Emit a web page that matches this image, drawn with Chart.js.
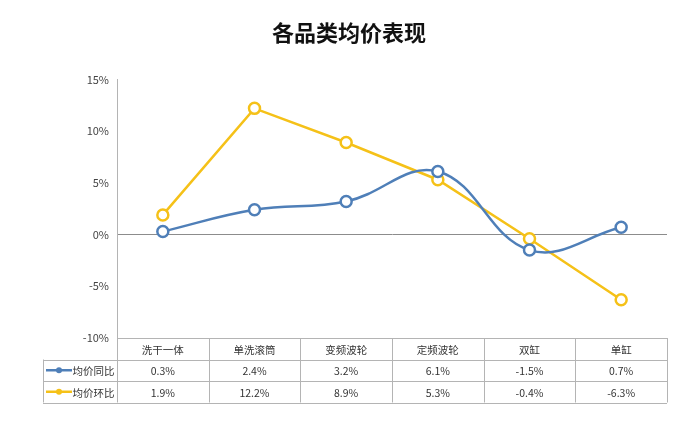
<!DOCTYPE html>
<html>
<head>
<meta charset="utf-8">
<script src="https://cdn.jsdelivr.net/npm/chart.js@4.4.1/dist/chart.umd.min.js"></script>
<style>
  html, body { margin: 0; padding: 0; background: #fff; }
  #wrap { width: 687px; height: 424px; position: relative; }
</style>
</head>
<body>
<div id="wrap"><canvas id="lineChart"></canvas></div>
<script>
// chart data
const categories = ["洗干一体", "单洗滚筒", "变频波轮", "定频波轮", "双缸", "单缸"];
const yoyValues = [0.3, 2.4, 3.2, 6.1, -1.5, 0.7];     // 均价同比
const momValues = [1.9, 12.2, 8.9, 5.3, -0.4, -6.3];   // 均价环比
const seriesNames = ["均价同比", "均价环比"];
const yTicks = [-10, -5, 0, 5, 10, 15];

const BLUE = "#4F7FB8";
const YELLOW = "#F5C118";
const GRID = "#b4b4b4";
const FONT = "'Noto Sans CJK SC', 'Noto Sans', sans-serif";

// data table under the plot, drawn on the x scale columns
const tablePlugin = {
  id: "dataTable",
  afterDraw(chart) {
    const ctx = chart.ctx;
    const area = chart.chartArea;
    const n = categories.length;
    const colW = (area.right - area.left) / n;
    const rowH = 21.5;
    const top = area.bottom;
    const tableLeft = 43;
    const rows = [
      { name: seriesNames[0], color: BLUE, values: yoyValues },
      { name: seriesNames[1], color: YELLOW, values: momValues },
    ];

    ctx.save();
    ctx.strokeStyle = GRID;
    ctx.lineWidth = 1;

    // horizontal lines
    const hline = (x1, x2, y) => {
      ctx.beginPath();
      ctx.moveTo(x1, Math.round(y) + 0.5);
      ctx.lineTo(x2, Math.round(y) + 0.5);
      ctx.stroke();
    };
    hline(area.left, area.right, top);
    hline(tableLeft, area.right, top + rowH);
    hline(tableLeft, area.right, top + rowH * 2);
    hline(tableLeft, area.right, top + rowH * 3);

    // vertical lines
    const vline = (x, y1, y2) => {
      ctx.beginPath();
      ctx.moveTo(Math.round(x) + 0.5, y1);
      ctx.lineTo(Math.round(x) + 0.5, y2);
      ctx.stroke();
    };
    vline(tableLeft, top + rowH, top + rowH * 3);
    for (let i = 0; i <= n; i++) {
      vline(area.left + colW * i, top, top + rowH * 3);
    }

    ctx.font = "10.5px " + FONT;
    ctx.fillStyle = "#333";
    ctx.textAlign = "center";
    ctx.textBaseline = "middle";
    const xs = chart.scales.x;
    categories.forEach((c, i) => {
      ctx.fillText(c, xs.getPixelForValue(i), top + rowH / 2 + 1);
    });

    rows.forEach((r, k) => {
      const cy = top + rowH * (k + 1.5) + 1;
      r.values.forEach((v, i) => {
        ctx.fillStyle = "#333";
        ctx.fillText(v.toFixed(1) + "%", xs.getPixelForValue(i), cy);
      });
      // legend key
      ctx.strokeStyle = r.color;
      ctx.lineWidth = 2.5;
      ctx.beginPath();
      ctx.moveTo(46, cy - 1);
      ctx.lineTo(72, cy - 1);
      ctx.stroke();
      ctx.fillStyle = r.color;
      ctx.beginPath();
      ctx.arc(59, cy - 1, 3, 0, Math.PI * 2);
      ctx.fill();
      ctx.fillStyle = "#333";
      ctx.textAlign = "left";
      ctx.fillText(r.name, 72.5, cy);
      ctx.textAlign = "center";
    });
    ctx.restore();
  },
};

new Chart(document.getElementById("lineChart"), {
  type: "line",
  data: {
    labels: categories,
    datasets: [
      {
        label: seriesNames[0],
        data: yoyValues,
        borderColor: BLUE,
        backgroundColor: "#fff",
        borderWidth: 2.5,
        tension: 0.4,
        pointRadius: 5.5,
        pointBorderWidth: 2.5,
        pointBackgroundColor: "#fff",
        pointBorderColor: BLUE,
      },
      {
        label: seriesNames[1],
        data: momValues,
        borderColor: YELLOW,
        backgroundColor: "#fff",
        borderWidth: 2.5,
        tension: 0,
        pointRadius: 5.5,
        pointBorderWidth: 2.5,
        pointBackgroundColor: "#fff",
        pointBorderColor: YELLOW,
      },
    ],
  },
  options: {
    responsive: true,
    maintainAspectRatio: false,
    animation: false,
    layout: { padding: { top: 0, right: 20, left: 31, bottom: 0 } },
    plugins: {
      legend: { display: false },
      tooltip: { enabled: false },
      title: {
        display: true,
        text: "各品类均价表现",
        color: "#111",
        font: { family: FONT, size: 22, weight: "bold" },
        padding: { top: 19, bottom: 34 },
      },
    },
    scales: {
      x: {
        offset: true,
        grid: { display: false },
        border: { display: false },
        ticks: { display: false },
        afterFit: (s) => { s.height = 86; },
      },
      y: {
        min: yTicks[0],
        max: yTicks[yTicks.length - 1],
        afterBuildTicks: (s) => { s.ticks = yTicks.map((v) => ({ value: v })); },
        ticks: {
          padding: 8,
          color: "#444",
          font: { family: FONT, size: 11 },
          callback: (v) => v + "%",
        },
        grid: {
          drawTicks: false,
          color: (c) => (c.tick && c.tick.value === 0 ? "#8c8c8c" : "rgba(0,0,0,0)"),
        },
        border: { display: true, color: GRID, width: 1 },
        afterFit: (s) => { s.width = 86; },
      },
    },
  },
  plugins: [tablePlugin],
});
</script>
</body>
</html>
